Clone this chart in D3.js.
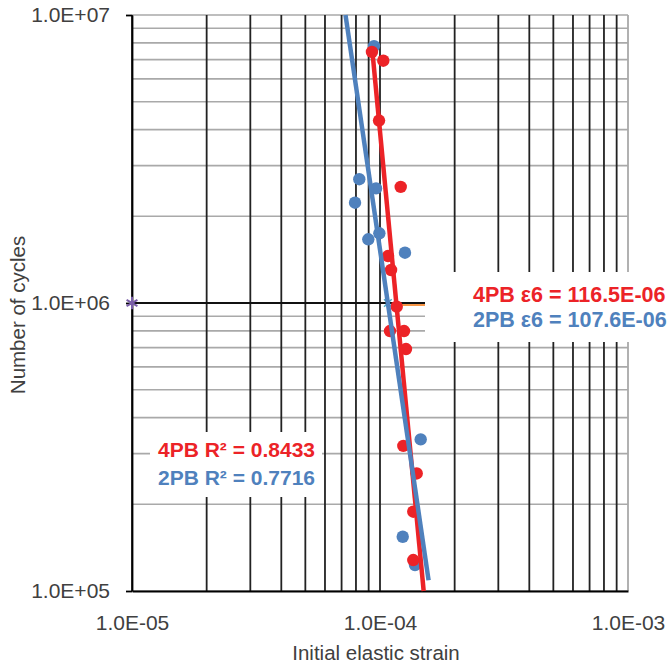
<!DOCTYPE html>
<html>
<head>
<meta charset="utf-8">
<script src="https://cdn.jsdelivr.net/npm/d3@7"></script>
<style>
  body { margin: 0; background: #fff; }
  text { font-family: "Liberation Sans", Arial, sans-serif; }
</style>
</head>
<body>
<div id="chart"></div>
<script>
// fatigue points: [initial strain, cycles]
const points4PB = [
  [9.28e-5, 7.44e6], [1.031e-4, 6.94e6], [9.91e-5, 4.30e6], [1.212e-4, 2.53e6],
  [1.077e-4, 1.456e6], [1.108e-4, 1.302e6], [1.168e-4, 9.71e5], [1.097e-4, 7.99e5],
  [1.250e-4, 7.99e5], [1.273e-4, 6.92e5], [1.242e-4, 3.19e5], [1.406e-4, 2.56e5],
  [1.362e-4, 1.885e5], [1.362e-4, 1.281e5]
];
const points2PB = [
  [9.46e-5, 7.80e6], [8.25e-5, 2.69e6], [7.93e-5, 2.23e6], [9.64e-5, 2.50e6],
  [8.97e-5, 1.664e6], [9.94e-5, 1.746e6], [1.261e-4, 1.495e6], [1.459e-4, 3.36e5],
  [1.235e-4, 1.543e5], [1.384e-4, 1.231e5]
];

// power trendlines (straight on log-log), end points
const trend4PB = [[9.3e-5, 7.6e6], [1.5e-4, 1.0e5]];
const trend2PB = [[7.26e-5, 1.0e7], [1.57e-4, 1.09e5]];

// epsilon-6 helper marks
const eps6Black = [[1e-5, 1e6], [1.52e-4, 1e6]];
const eps6Orange = [[1.15e-4, 9.84e5], [1.52e-4, 9.84e5]];
const eps6Star = [1e-5, 1e6];
const eps6Cross = [1.076e-4, 1e6];

const xTicks = [1e-5, 1e-4, 1e-3];
const xTickLabels = ["1.0E-05", "1.0E-04", "1.0E-03"];
const yTicks = [1e5, 1e6, 1e7];
const yTickLabels = ["1.0E+05", "1.0E+06", "1.0E+07"];

const eps6Labels = ["4PB  \u03B56 = 116.5E-06", "2PB  \u03B56 = 107.6E-06"];
const r2Labels = ["4PB R\u00B2 = 0.8433", "2PB R\u00B2 = 0.7716"];

const red = "#ec2327";
const blue = "#4f81bd";

const width = 496;
const height = 576;
const margin = { top: 15, right: 42, bottom: 75, left: 132 };

const svg = d3.select("#chart")
              .append("svg")
              .attr("width", width + margin.left + margin.right)
              .attr("height", height + margin.top + margin.bottom)
              .style("background", "#fff");

const g = svg.append("g")
             .attr("transform", `translate(${margin.left}, ${margin.top})`);

// Scaling
const xScale = d3.scaleLog().domain([1e-5, 1e-3]).range([0, width]);
const yScale = d3.scaleLog().domain([1e5, 1e7]).range([height, 0]);

// Grid
const xGrid = [];
const yGrid = [];
[-5, -4].forEach(e => d3.range(1, 10).forEach(k => xGrid.push(k * Math.pow(10, e))));
xGrid.push(1e-3);
[5, 6].forEach(e => d3.range(1, 10).forEach(k => yGrid.push(k * Math.pow(10, e))));
yGrid.push(1e7);

g.selectAll(".hgrid")
 .data(yGrid)
 .enter()
 .append("line")
 .attr("class", "hgrid")
 .attr("x1", 0).attr("x2", width)
 .attr("y1", d => yScale(d)).attr("y2", d => yScale(d))
 .attr("stroke", "#a9a9a9")
 .attr("stroke-width", 1.6);

g.selectAll(".vgrid")
 .data(xGrid)
 .enter()
 .append("line")
 .attr("class", "vgrid")
 .attr("x1", d => xScale(d)).attr("x2", d => xScale(d))
 .attr("y1", 0).attr("y2", height)
 .attr("stroke", d => d === 1e-3 ? "#a9a9a9" : "#222")
 .attr("stroke-width", 1.8);

// Axes
g.append("g")
 .attr("transform", `translate(0, ${height})`)
 .call(d3.axisBottom(xScale).tickValues(xTicks).tickSize(0).tickPadding(24)
        .tickFormat((d, i) => xTickLabels[i]))
 .call(ax => ax.select(".domain").attr("stroke", "#000").attr("stroke-width", 1.8))
 .selectAll("text")
 .attr("font-size", 21)
 .attr("fill", "#404040")
 .attr("font-family", "Liberation Sans, Arial, sans-serif");

g.append("g")
 .call(d3.axisLeft(yScale).tickValues(yTicks).tickSize(6).tickSizeOuter(0).tickPadding(16)
        .tickFormat((d, i) => yTickLabels[i]))
 .call(ax => ax.select(".domain").attr("stroke", "#000").attr("stroke-width", 1.8))
 .call(ax => ax.selectAll(".tick line").attr("stroke", "#000").attr("stroke-width", 1.8))
 .selectAll("text")
 .attr("font-size", 21)
 .attr("fill", "#404040")
 .attr("font-family", "Liberation Sans, Arial, sans-serif");

// Axis titles
svg.append("text")
   .attr("x", margin.left + xScale(1e-4) - 4)
   .attr("y", 660)
   .attr("text-anchor", "middle")
   .attr("font-size", 20.5)
   .attr("fill", "#404040")
   .text("Initial elastic strain");

svg.append("text")
   .attr("transform", `translate(25, ${margin.top + yScale(1e6) + 12}) rotate(-90)`)
   .attr("text-anchor", "middle")
   .attr("font-size", 20.5)
   .attr("fill", "#404040")
   .text("Number of cycles");

// Label boxes (white, hide the grid behind the text)
svg.append("rect")
   .attr("x", 425).attr("y", 272).attr("width", 245).attr("height", 70)
   .attr("fill", "#fff");
svg.append("rect")
   .attr("x", 150).attr("y", 432).attr("width", 172).attr("height", 65)
   .attr("fill", "#fff");

// epsilon-6 helper marks
const line = d3.line().x(d => xScale(d[0])).y(d => yScale(d[1]));

g.append("path")
 .attr("d", line(eps6Black))
 .attr("stroke", "#111").attr("stroke-width", 2).attr("fill", "none");
g.append("path")
 .attr("d", line(eps6Orange))
 .attr("stroke", "#f79646").attr("stroke-width", 2).attr("fill", "none");
g.append("path")
 .attr("transform", `translate(${xScale(eps6Star[0])}, ${yScale(eps6Star[1])})`)
 .attr("d", d3.symbol().type(d3.symbolAsterisk).size(110)())
 .attr("stroke", "#7a5ea8").attr("stroke-width", 2).attr("fill", "none");
g.append("path")
 .attr("transform", `translate(${xScale(eps6Cross[0])}, ${yScale(eps6Cross[1])})`)
 .attr("d", d3.symbol().type(d3.symbolTimes).size(40)())
 .attr("stroke", "#4bacc6").attr("stroke-width", 1.5).attr("fill", "none");

// Points
g.selectAll(".p2")
 .data(points2PB)
 .enter()
 .append("circle")
 .attr("class", "p2")
 .attr("cx", d => xScale(d[0]))
 .attr("cy", d => yScale(d[1]))
 .attr("r", 6.2)
 .attr("fill", blue);

g.selectAll(".p4")
 .data(points4PB)
 .enter()
 .append("circle")
 .attr("class", "p4")
 .attr("cx", d => xScale(d[0]))
 .attr("cy", d => yScale(d[1]))
 .attr("r", 6.2)
 .attr("fill", red);

// Trendlines
g.append("path")
 .attr("d", line(trend4PB))
 .attr("stroke", red).attr("stroke-width", 4.5).attr("fill", "none");
g.append("path")
 .attr("d", line(trend2PB))
 .attr("stroke", blue).attr("stroke-width", 4.5).attr("fill", "none");

// Text labels
svg.selectAll(".eps6")
   .data(eps6Labels)
   .enter()
   .append("text")
   .attr("class", "eps6")
   .attr("x", 473)
   .attr("y", (d, i) => 302 + i * 25)
   .attr("font-size", 21.5)
   .attr("font-weight", "bold")
   .attr("fill", (d, i) => i === 0 ? red : blue)
   .text(d => d);

svg.selectAll(".r2")
   .data(r2Labels)
   .enter()
   .append("text")
   .attr("class", "r2")
   .attr("x", 158)
   .attr("y", (d, i) => 457 + i * 28)
   .attr("font-size", 21)
   .attr("font-weight", "bold")
   .attr("fill", (d, i) => i === 0 ? red : blue)
   .text(d => d);
</script>
</body>
</html>
